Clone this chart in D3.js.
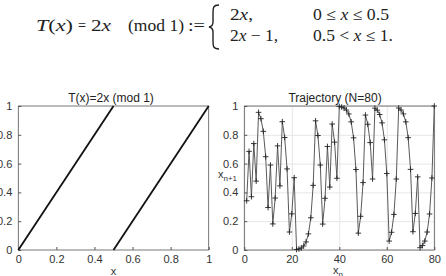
<!DOCTYPE html>
<html>
<head>
<meta charset="utf-8">
<script src="https://cdn.jsdelivr.net/npm/d3@7"></script>
<style>
  body { margin: 0; background: #fff; }
  svg { display: block; }
</style>
</head>
<body>
<svg id="chart" width="446" height="276"></svg>
<script>
// doubling map branches (x -> T(x))
var branchA_x = [0, 0.5], branchA_y = [0, 1];
var branchB_x = [0.5, 1], branchB_y = [0, 1];
var mapTicks = [0, 0.2, 0.4, 0.6, 0.8, 1];

// trajectory x_1 .. x_80
var trajValues = [
  0.342, 0.685, 0.370, 0.739, 0.478, 0.956, 0.912, 0.824, 0.648, 0.295,
  0.590, 0.181, 0.361, 0.723, 0.445, 0.891, 0.781, 0.563, 0.125, 0.251,
  0.502, 0.004, 0.007, 0.014, 0.028, 0.056, 0.112, 0.224, 0.449, 0.897,
  0.795, 0.590, 0.180, 0.359, 0.719, 0.437, 0.875, 0.749, 0.498, 0.997,
  0.993, 0.986, 0.972, 0.945, 0.890, 0.779, 0.559, 0.117, 0.234, 0.468,
  0.937, 0.873, 0.746, 0.493, 0.985, 0.971, 0.941, 0.883, 0.765, 0.531,
  0.062, 0.123, 0.247, 0.493, 0.986, 0.972, 0.945, 0.890, 0.780, 0.560,
  0.127, 0.254, 0.508, 0.016, 0.031, 0.062, 0.125, 0.250, 0.500, 1.000
];
var trajTicksX = [0, 20, 40, 60, 80];
var trajTicksY = [0, 0.2, 0.4, 0.6, 0.8, 1];

var svg = d3.select("#chart");
var axisColor = "#555", textColor = "#333";
var tickFont = "Liberation Sans, Arial, sans-serif";

// ---------- formula at the top ----------
var fml = svg.append("g")
  .attr("font-family", "Liberation Serif, Times New Roman, serif")
  .attr("font-size", 16)
  .attr("fill", "#222");

function piece(x, y, w) {
  var t = fml.append("text").attr("x", x).attr("y", y);
  if (w) t.attr("textLength", w).attr("lengthAdjust", "spacingAndGlyphs");
  return t;
}
var t1 = piece(36, 31, 37);
t1.append("tspan").attr("font-style", "italic").text("T");
t1.append("tspan").text("(");
t1.append("tspan").attr("font-style", "italic").text("x");
t1.append("tspan").text(")");
piece(78, 31, 8).text("=");
var t2 = piece(91, 31, 20);
t2.append("tspan").text("2");
t2.append("tspan").attr("font-style", "italic").text("x");
piece(128, 31, 56).text("(mod 1)");
piece(188, 31, 17).text(":=");

// brace
fml.append("path")
  .attr("d", "M219,5 C213,5 213,8 213,13 L213,22 C213,25 212,26.5 209,27 C212,27.5 213,29 213,32 L213,41 C213,46 213,49 219,49")
  .attr("fill", "none").attr("stroke", "#222").attr("stroke-width", 1.4);

var c1 = piece(230, 20, 23);
c1.append("tspan").text("2");
c1.append("tspan").attr("font-style", "italic").text("x");
c1.append("tspan").text(",");
var c2 = piece(230, 41, 48);
c2.append("tspan").text("2");
c2.append("tspan").attr("font-style", "italic").text("x");
c2.append("tspan").text(" \u2212 1,");
var r1 = piece(313, 20, 76);
r1.append("tspan").text("0 \u2264 ");
r1.append("tspan").attr("font-style", "italic").text("x");
r1.append("tspan").text(" \u2264 0.5");
var r2 = piece(313, 41, 80);
r2.append("tspan").text("0.5 < ");
r2.append("tspan").attr("font-style", "italic").text("x");
r2.append("tspan").text(" \u2264 1.");

// ---------- shared panel helper ----------
var plotTop = 106, plotBottom = 250, plotH = plotBottom - plotTop;

function panel(left, right, xDomain, xTicks, yTicks, grid) {
  var x = d3.scaleLinear().domain(xDomain).range([left, right]);
  var y = d3.scaleLinear().domain([0, 1]).range([plotBottom, plotTop]);
  var g = svg.append("g");

  if (grid) {
    g.append("g").attr("transform", "translate(0," + plotBottom + ")")
      .call(d3.axisBottom(x).tickValues(xTicks).tickSize(-plotH).tickFormat(""))
      .call(function(s) { s.select(".domain").remove(); s.selectAll("line").attr("stroke", "#e6e6e6"); });
    g.append("g").attr("transform", "translate(" + left + ",0)")
      .call(d3.axisLeft(y).tickValues(yTicks).tickSize(-(right - left)).tickFormat(""))
      .call(function(s) { s.select(".domain").remove(); s.selectAll("line").attr("stroke", "#e6e6e6"); });
  }

  var xa = g.append("g").attr("transform", "translate(0," + plotBottom + ")")
    .call(d3.axisBottom(x).tickValues(xTicks).tickSize(-3).tickPadding(5).tickFormat(d3.format("")));
  var ya = g.append("g").attr("transform", "translate(" + left + ",0)")
    .call(d3.axisLeft(y).tickValues(yTicks).tickSize(-3).tickPadding(6).tickFormat(d3.format("")));
  [xa, ya].forEach(function(a) {
    a.select(".domain").remove();
    a.selectAll("line").attr("stroke", axisColor);
    a.selectAll("text").attr("fill", textColor).attr("font-family", tickFont).attr("font-size", 11);
  });

  g.append("rect").attr("x", left).attr("y", plotTop)
    .attr("width", right - left).attr("height", plotH)
    .attr("fill", "none").attr("stroke", axisColor).attr("stroke-width", 0.8);

  return { x: x, y: y, g: g };
}

// ---------- left panel: the map ----------
var L = panel(18.3, 208.7, [0, 1], mapTicks, mapTicks, false);
var mapLine = d3.line().x(function(d) { return L.x(d[0]); }).y(function(d) { return L.y(d[1]); });
[[branchA_x, branchA_y], [branchB_x, branchB_y]].forEach(function(b) {
  L.g.append("path")
    .attr("d", mapLine(d3.zip(b[0], b[1])))
    .attr("fill", "none").attr("stroke", "#111").attr("stroke-width", 1.8);
});
L.g.append("text").attr("x", 111).attr("y", 102).attr("text-anchor", "middle")
  .attr("font-family", tickFont).attr("font-size", 12).attr("fill", "#222")
  .text("T(x)=2x (mod 1)");
L.g.append("text").attr("x", 113.5).attr("y", 275).attr("text-anchor", "middle")
  .attr("font-family", tickFont).attr("font-size", 11).attr("fill", textColor)
  .text("x");

// ---------- right panel: the trajectory ----------
var R = panel(244.3, 434.3, [0, 80], trajTicksX, trajTicksY, true);
var pts = trajValues.map(function(v, i) { return [i + 1, v]; });
var trajLine = d3.line().x(function(d) { return R.x(d[0]); }).y(function(d) { return R.y(d[1]); });
R.g.append("path").attr("d", trajLine(pts))
  .attr("fill", "none").attr("stroke", "#5a5a5a").attr("stroke-width", 1);
R.g.selectAll(".mk").data(pts).enter().append("path")
  .attr("class", "mk")
  .attr("d", function(d) {
    var cx = R.x(d[0]), cy = R.y(d[1]), s = 2.8;
    return "M" + (cx - s) + "," + cy + "H" + (cx + s) + "M" + cx + "," + (cy - s) + "V" + (cy + s);
  })
  .attr("stroke", "#222").attr("stroke-width", 0.9);

R.g.append("text").attr("x", 335).attr("y", 102).attr("text-anchor", "middle")
  .attr("font-family", tickFont).attr("font-size", 12).attr("fill", "#222")
  .text("Trajectory (N=80)");
var xl = R.g.append("text").attr("x", 333).attr("y", 274)
  .attr("font-family", tickFont).attr("font-size", 11).attr("fill", textColor);
xl.append("tspan").text("x");
xl.append("tspan").attr("dy", 2.5).attr("font-size", 8).text("n");
var yl = R.g.append("text").attr("x", 218).attr("y", 178)
  .attr("font-family", tickFont).attr("font-size", 11).attr("fill", textColor);
yl.append("tspan").text("x");
yl.append("tspan").attr("dy", 3).attr("font-size", 8).text("n+1");
</script>
</body>
</html>
